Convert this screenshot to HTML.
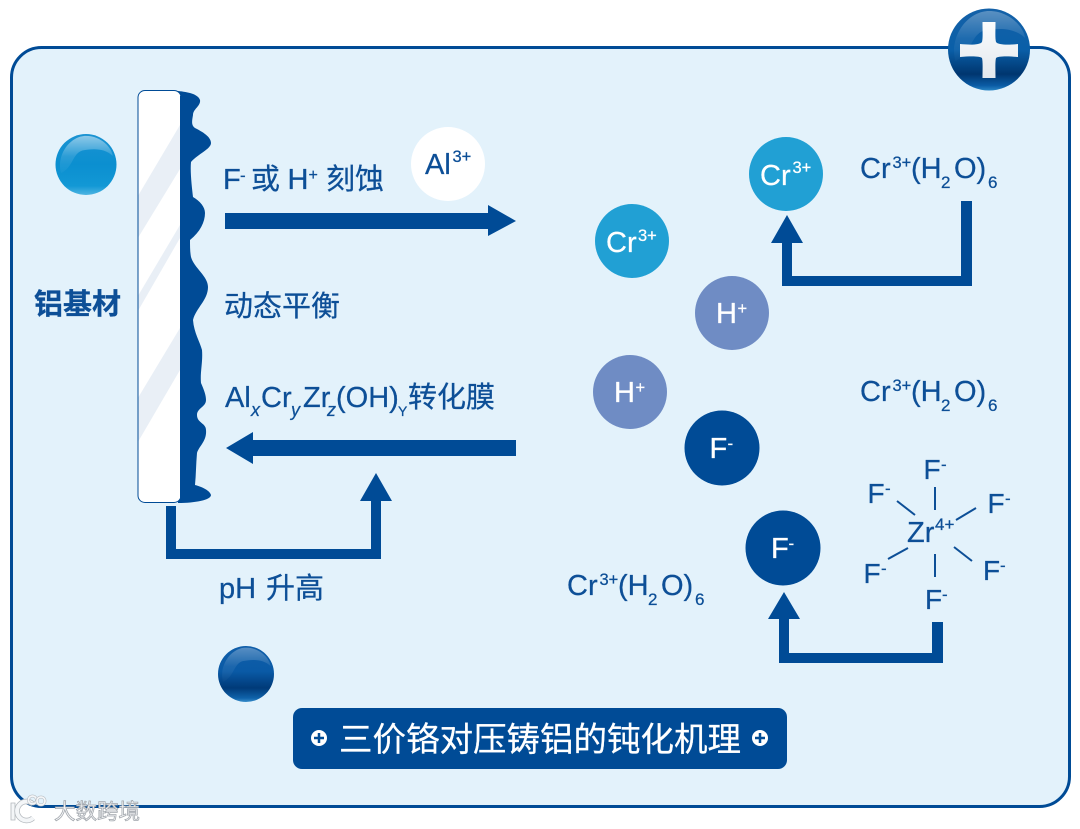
<!DOCTYPE html>
<html><head><meta charset="utf-8">
<style>
html,body{margin:0;padding:0;background:#fff;width:1080px;height:829px;overflow:hidden}
svg{display:block}
text{font-family:"Liberation Sans","Noto Sans CJK SC",sans-serif;fill:#0d4f97;stroke:#0d4f97;stroke-width:.25}
text.w{fill:#fff;stroke:#fff}
text.wm{fill:#f6f7f8;stroke:#a3a8ae;stroke-width:.8}
</style></head><body>
<svg width="1080" height="829" viewBox="0 0 1080 829" xmlns="http://www.w3.org/2000/svg">
<defs>
<linearGradient id="g1" x1="0" y1="0" x2="0" y2="1"><stop offset="0" stop-color="#1b93d2"/><stop offset=".5" stop-color="#0b8fd0"/><stop offset=".85" stop-color="#1298d5"/><stop offset="1" stop-color="#4fb5e2"/></linearGradient>
<linearGradient id="g2" x1="0" y1="0" x2="0" y2="1"><stop offset="0" stop-color="#0f5ea9"/><stop offset=".45" stop-color="#0a5aa6"/><stop offset=".75" stop-color="#003a78"/><stop offset=".93" stop-color="#0f62aa"/><stop offset="1" stop-color="#3a8fcc"/></linearGradient>
<linearGradient id="g3" x1="0" y1="0" x2="0" y2="1"><stop offset="0" stop-color="#1461a8"/><stop offset=".5" stop-color="#0a5fa8"/><stop offset=".8" stop-color="#00366f"/><stop offset=".94" stop-color="#0b5ca5"/><stop offset="1" stop-color="#2a86c6"/></linearGradient>
<linearGradient id="hl" x1="0" y1="0" x2="0" y2="1"><stop offset="0" stop-color="#fff" stop-opacity=".5"/><stop offset=".55" stop-color="#fff" stop-opacity=".12"/><stop offset="1" stop-color="#fff" stop-opacity=".03"/></linearGradient>
<linearGradient id="cross" x1="0" y1="0" x2="0" y2="1"><stop offset="0" stop-color="#fbfcfd"/><stop offset="1" stop-color="#e3e8ed"/></linearGradient>
<path id="cres" d="M-.82 .28C-.98 -.35 -.5 -.94 0 -.94C.5 -.94 .85 -.55 .88 -.28C.6 -.55 .2 -.52 -.12 -.46C-.45 -.36 -.42 .1 -.82 .28Z"/>
</defs>

<rect x="11.500" y="47.500" width="1058" height="759" rx="30" fill="#e3f2fb" stroke="#004b96" stroke-width="3"/>

<!-- substrate -->
<path d="M178 91C188 92 198 94 200 100C201 106 193 109 193 115C192 121 191 125 195 128C203 132 211 137 211 143C211 149 198 154 191 162C190 172 192 188 193 197C200 201 205 207 205 213C205 222 200 232 190 240C190 246 190 252 191 257C194 268 208 276 208 287C208 300 196 308 193 320C194 333 200 342 202 350C203 362 200 372 201 383C204 390 206 395 206 400C206 407 197 408 197 415C197 423 206 423 206 430C207 441 199 446 197 453C196 464 196 475 195 485C203 487 210 491 211 495C211 500 195 503 178 503Z" fill="#004b96"/>
<rect x="138" y="90.500" width="43" height="412" rx="7" fill="#fff" stroke="#004b96" stroke-width="1"/>
<path d="M180 125V169L138.500 237V195ZM180 225V238L138.500 310V295ZM180 328V370L138.500 441V397Z" fill="#e9eff6"/>
<rect x="180" y="96" width="2" height="402" fill="#004b96"/>

<!-- arrows -->
<g fill="#004b96">
<path d="M225 213H488V205L516 221L488 236V229H225Z"/>
<path d="M516 440H253V432L226 448L253 464V456H516Z"/>
<path d="M166 506H176V549H371V501H360L376 473L392 501H381V559H166Z"/>
<path d="M972 201H961V276H792V243H803L787 215L771 243H782V286H972Z"/>
<path d="M943 622H932V653H789V619H800L784 592L768 619H779V663H943Z"/>
</g>

<!-- spheres -->
<circle cx="86" cy="164.500" r="30.500" fill="url(#g1)"/>
<use href="#cres" transform="translate(86 164.500) scale(30.500)" fill="url(#hl)"/>
<circle cx="246" cy="674" r="28" fill="url(#g2)"/>
<use href="#cres" transform="translate(246 674) scale(28)" fill="url(#hl)" opacity=".6"/>
<circle cx="989" cy="49.500" r="41" fill="url(#g3)"/>
<use href="#cres" transform="translate(989 49.500) scale(41)" fill="url(#hl)" opacity=".6"/>
<path d="M982.500 22H995.500C995.500 32 995 38 996 42C998 45 1008 45 1018 44V57C1008 56 998 56 996 58C995 62 995.500 70 995.500 78H982.500C982.500 70 983 62 982 58C980 56 970 56 960 57V44C970 45 980 45 982 42C983 38 982.500 32 982.500 22Z" fill="url(#cross)"/>

<!-- left labels -->
<text x="34" y="314" font-size="29" font-weight="700">铝基材</text>
<text x="223" y="189" font-size="29">F</text><text x="240" y="181" font-size="17">-</text>
<text x="251" y="189" font-size="29">或</text>
<text x="287.500" y="189" font-size="29">H</text><text x="308.500" y="180" font-size="16">+</text>
<text x="326" y="189" font-size="29">刻蚀</text>
<text x="224" y="316" font-size="29">动态平衡</text>
<text x="225" y="407" font-size="29">Al</text><text x="251" y="416" font-size="18" font-style="italic">x</text>
<text x="261" y="407" font-size="29">Cr</text><text x="291" y="416" font-size="18" font-style="italic">y</text>
<text x="303" y="407" font-size="29">Zr</text><text x="327" y="416" font-size="18" font-style="italic">z</text>
<text x="336" y="407" font-size="29">(OH)</text><text x="398" y="416" font-size="14">Y</text>
<text x="408" y="407" font-size="29">转化膜</text>
<text x="219" y="598" font-size="29">pH</text><text x="266" y="598" font-size="29">升高</text>

<!-- circles -->
<circle cx="448" cy="164" r="37" fill="#fff"/>
<text x="425" y="174" font-size="29">Al</text><text x="452.500" y="162" font-size="16.500">3+</text>
<circle cx="786" cy="174" r="37" fill="#21a0d4"/>
<text class="w" x="760" y="185" font-size="29">Cr</text><text class="w" x="792.500" y="173" font-size="16.500">3+</text>
<circle cx="632" cy="241" r="37" fill="#21a0d4"/>
<text class="w" x="606" y="252" font-size="29">Cr</text><text class="w" x="638" y="241" font-size="16.500">3+</text>
<circle cx="732" cy="313" r="37" fill="#6f8cc4"/>
<text class="w" x="716" y="323" font-size="29">H</text><text class="w" x="737.500" y="314" font-size="16.500">+</text>
<circle cx="630" cy="392" r="37" fill="#6f8cc4"/>
<text class="w" x="614" y="402" font-size="29">H</text><text class="w" x="635.500" y="393" font-size="16.500">+</text>
<circle cx="722" cy="448" r="37.500" fill="#004b96"/>
<text class="w" x="709.500" y="458" font-size="29">F</text><text class="w" x="727.500" y="449" font-size="17">-</text>
<circle cx="783" cy="548" r="37.500" fill="#004b96"/>
<text class="w" x="771" y="558" font-size="29">F</text><text class="w" x="788.500" y="549" font-size="17">-</text>

<!-- Cr complex formula -->
<g>
<text x="860" y="178" font-size="29">Cr</text><text x="892.500" y="168" font-size="16.500">3+</text><text x="911" y="178" font-size="29">(H</text><text x="941" y="188" font-size="17">2</text><text x="954" y="178" font-size="29">O)</text><text x="988" y="188" font-size="17">6</text>
</g>
<g transform="translate(0,223)">
<text x="860" y="178" font-size="29">Cr</text><text x="892.500" y="168" font-size="16.500">3+</text><text x="911" y="178" font-size="29">(H</text><text x="941" y="188" font-size="17">2</text><text x="954" y="178" font-size="29">O)</text><text x="988" y="188" font-size="17">6</text>
</g>
<g transform="translate(-293,417)">
<text x="860" y="178" font-size="29">Cr</text><text x="892.500" y="168" font-size="16.500">3+</text><text x="911" y="178" font-size="29">(H</text><text x="941" y="188" font-size="17">2</text><text x="954" y="178" font-size="29">O)</text><text x="988" y="188" font-size="17">6</text>
</g>

<!-- Zr -->
<text x="907" y="542" font-size="29">Zr</text><text x="935" y="530" font-size="17">4+</text>
<g font-size="28">
<text x="923.500" y="479">F</text><text x="941" y="470" font-size="17">-</text>
<text x="867.500" y="503">F</text><text x="885" y="494" font-size="17">-</text>
<text x="987.500" y="513">F</text><text x="1005" y="504" font-size="17">-</text>
<text x="863.500" y="583">F</text><text x="881" y="574" font-size="17">-</text>
<text x="983" y="580">F</text><text x="1000" y="571" font-size="17">-</text>
<text x="925" y="609">F</text><text x="942" y="600" font-size="17">-</text>
</g>
<g stroke="#0d4f97" stroke-width="2" fill="none">
<path d="M935 487V510M897 501L915 515M976 508L956 520M908 548L888 559M954 547L972 561M935 554V577"/>
</g>

<!-- title -->
<rect x="293" y="708" width="494" height="61" rx="9" fill="#004b96"/>
<circle cx="319" cy="738" r="8" fill="#fff"/><path d="M314 738H324M319 733V743" stroke="#004b96" stroke-width="2.500"/>
<circle cx="760" cy="738" r="8" fill="#fff"/><path d="M755 738H765M760 733V743" stroke="#004b96" stroke-width="2.500"/>
<text class="w" x="339" y="751" font-size="33.500">三价铬对压铸铝的钝化机理</text>

<!-- watermark -->
<g fill="none">
<path d="M11 803H15V820H11Z" fill="#f4f6f8" stroke="#b3b8bd" stroke-width=".8"/>
<path d="M33 804A9.500 9.500 0 1 0 33 818" stroke="#b3b8bd" stroke-width="5.500"/>
<path d="M33 804A9.500 9.500 0 1 0 33 818" stroke="#f4f6f8" stroke-width="4"/>
<circle cx="32.500" cy="800" r="4" stroke="#b3b8bd" stroke-width="2.800"/><circle cx="32.500" cy="800" r="4" stroke="#f4f6f8" stroke-width="1.800"/>
<circle cx="41" cy="801" r="4" stroke="#b3b8bd" stroke-width="2.800"/><circle cx="41" cy="801" r="4" stroke="#f4f6f8" stroke-width="1.800"/>
</g>
<text class="wm" x="54" y="819" font-size="21.500">大数跨境</text>
</svg>
</body></html>
